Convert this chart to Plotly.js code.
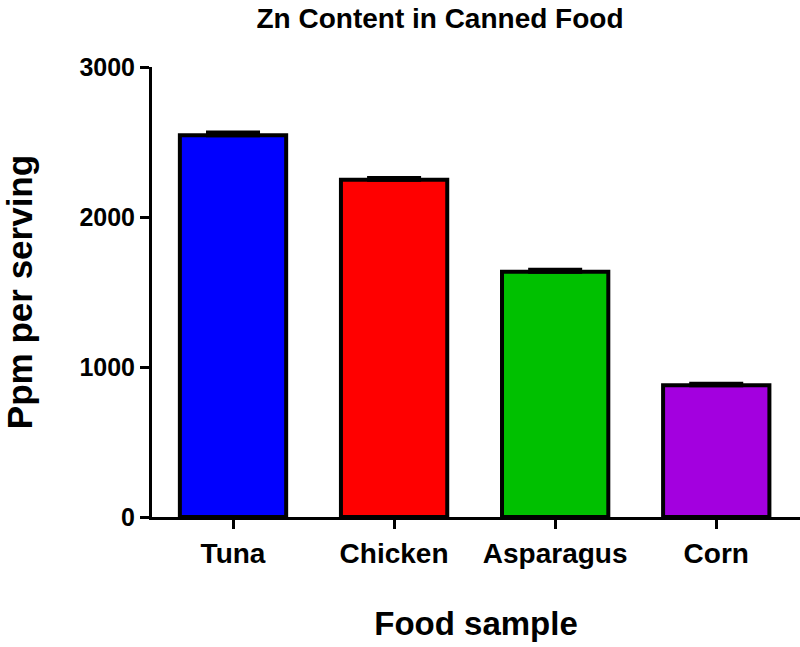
<!DOCTYPE html>
<html>
<head>
<meta charset="utf-8">
<script src="https://cdn.plot.ly/plotly-3.0.1.min.js"></script>
<style>html,body{margin:0;padding:0;background:#fff;}#chart{width:800px;height:647px;}</style>
</head>
<body>
<div id="chart"></div>
<script>
const categories = ['Tuna', 'Chicken', 'Asparagus', 'Corn'];
const values = [2545, 2248, 1635, 878];
const errors = [18, 12, 14, 10];
const colors = ['#0000FF', '#FF0000', '#00C000', '#A300DF'];
const yTicks = [0, 1000, 2000, 3000];

const trace = {
  type: 'bar',
  x: categories,
  y: values,
  width: 0.66,
  marker: {color: colors, line: {color: '#000', width: 4}},
  error_y: {type: 'data', symmetric: false, array: errors, arrayminus: errors.map(() => 0),
            color: '#000', thickness: 4, width: 27},
  hoverinfo: 'none'
};

const font = {family: 'Arial, Liberation Sans, sans-serif', color: '#000'};
const layout = {
  width: 800, height: 647,
  margin: {l: 152, r: 0, t: 67, b: 130},
  paper_bgcolor: '#fff', plot_bgcolor: '#fff',
  showlegend: false,
  title: {text: '<b>Zn Content in Canned Food</b>', x: 0.55, xref: 'container', xanchor: 'center',
          y: 0.972, yanchor: 'middle',
          font: Object.assign({}, font, {size: 28})},
  xaxis: {
    range: [-0.503, 3.52],
    showline: true, linecolor: '#000', linewidth: 3,
    ticks: 'outside', ticklen: 9, tickwidth: 3, tickcolor: '#000',
    tickfont: Object.assign({}, font, {size: 28, weight: 'bold'}),
    showgrid: false, zeroline: false,
    title: {text: '<b>Food sample</b>', font: Object.assign({}, font, {size: 33}), standoff: 45}
  },
  yaxis: {
    range: [0, 3000],
    tickvals: yTicks, ticktext: yTicks.map(String),
    showline: true, linecolor: '#000', linewidth: 3,
    ticks: 'outside', ticklen: 9, tickwidth: 3, tickcolor: '#000',
    tickfont: Object.assign({}, font, {size: 25, weight: 'bold'}),
    showgrid: false, zeroline: false,
    title: {text: '<b>Ppm per serving</b>', font: Object.assign({}, font, {size: 35}), standoff: 40}
  }
};

Plotly.newPlot('chart', [trace], layout, {displayModeBar: false, staticPlot: true});
</script>
</body>
</html>
